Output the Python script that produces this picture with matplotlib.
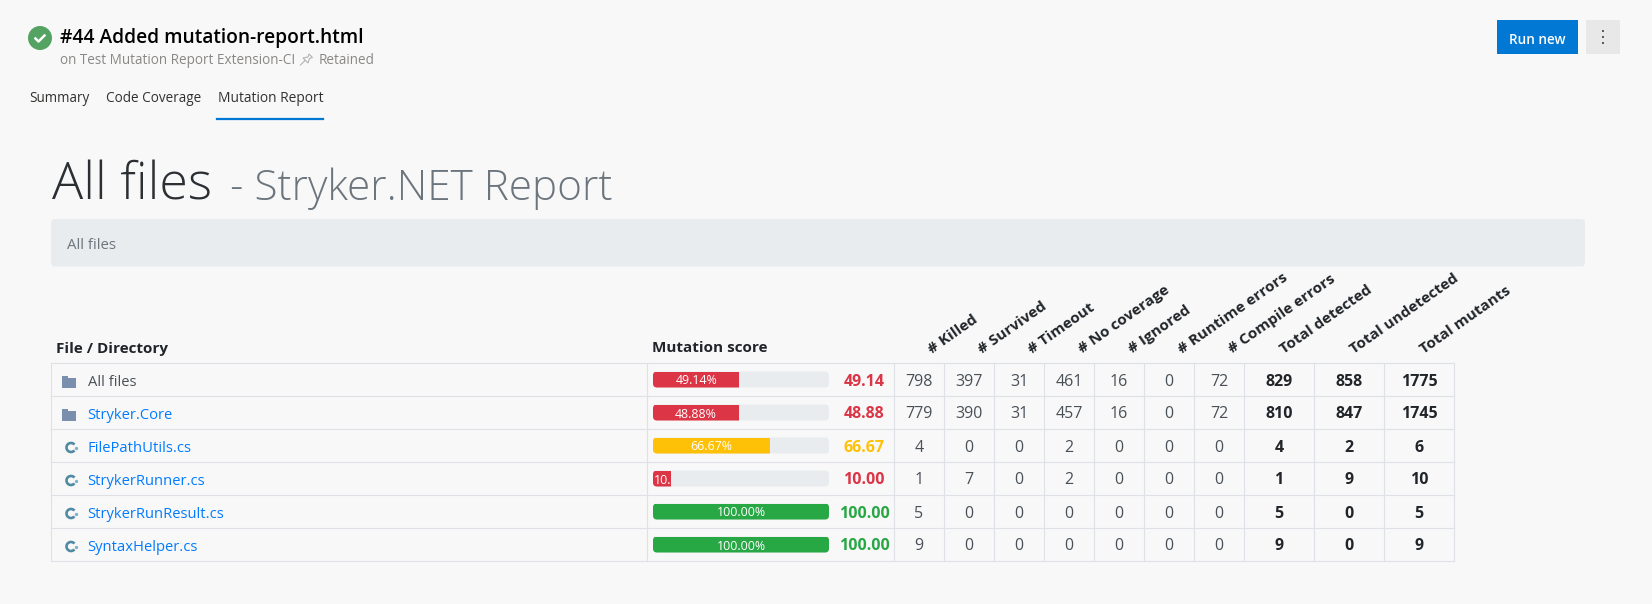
import matplotlib
matplotlib.use("Agg")
import matplotlib.pyplot as plt
from matplotlib.patches import Arc, Circle, FancyBboxPatch, Polygon, Rectangle

# table data
names = ["All files", "Stryker.Core", "FilePathUtils.cs", "StrykerRunner.cs", "StrykerRunResult.cs", "SyntaxHelper.cs"]
is_folder = [True, True, False, False, False, False]
scores = [49.14, 48.88, 66.67, 10.00, 100.00, 100.00]
killed = [798, 779, 4, 1, 5, 9]
survived = [397, 390, 0, 7, 0, 0]
timeout = [31, 31, 0, 0, 0, 0]
no_coverage = [461, 457, 2, 2, 0, 0]
ignored = [16, 16, 0, 0, 0, 0]
runtime_errors = [0, 0, 0, 0, 0, 0]
compile_errors = [72, 72, 0, 0, 0, 0]
total_detected = [829, 810, 4, 1, 5, 9]
total_undetected = [858, 847, 2, 9, 0, 0]
total_mutants = [1775, 1745, 6, 10, 5, 9]

count_headers = ["# Killed", "# Survived", "# Timeout", "# No coverage", "# Ignored", "# Runtime errors",
                 "# Compile errors", "Total detected", "Total undetected", "Total mutants"]
tabs = ["Summary", "Code Coverage", "Mutation Report"]

RED = "#dc3545"
YELLOW = "#ffc107"
GREEN = "#28a745"
LINE = "#dee2e6"
DARK = "#212529"
LINK = "#007bff"
FONT = "Open Sans"


def score_color(s):
    if s < 50:
        return RED
    if s < 80:
        return YELLOW
    return GREEN


fig = plt.figure(figsize=(16.52, 6.04), dpi=100, facecolor="#f8f8f8")
# axes in pixel units, y going down
ax = fig.add_axes([0, 0, 1, 1])
ax.set_xlim(0, 1652)
ax.set_ylim(604, 0)
ax.axis("off")


def px(size):
    return size * 0.72


def txt(x, y, s, size, color=DARK, ha="left", weight="normal", **kw):
    return ax.text(x, y, s, fontsize=px(size), color=color, ha=ha, va="center_baseline",
                   fontweight=weight, family=FONT, **kw)


# page header
ax.add_patch(Circle((40, 38), 12, color="#55a362", lw=0))
ax.plot([35.5, 38.5, 44.5], [38.5, 41.5, 35.5], color="white", lw=1.8)
txt(60, 35, "#44 Added mutation-report.html", 19.2, color="black", weight="semibold")
txt(60, 59, "on Test Mutation Report Extension-CI", 13.5, color="#8a8886")
# pin icon
ax.plot([300.5, 305], [65, 60.5], color="#b5b3b1", lw=0.8)
ax.add_patch(Polygon([(303, 58), (308, 57), (309, 54), (312.5, 57.5), (309.5, 58.5), (308, 63)],
                     closed=True, fc="none", ec="#b5b3b1", lw=0.8))
txt(319, 59, "Retained", 13.5, color="#8a8886")
ax.add_patch(Rectangle((1497, 20), 81, 34, color="#0078d4", lw=0))
txt(1537.5, 38, "Run new", 13.5, color="white", ha="center", weight="semibold")
ax.add_patch(Rectangle((1586, 20), 34, 34, color="#e8e8e8", lw=0))
ax.plot([1603] * 3, [31, 37, 43], ls="", marker="s", ms=1.5, mew=0, color="#605e5c")

tab_x = [29, 106, 218]
for i, (x, t) in enumerate(zip(tab_x, tabs)):
    txt(x, 97, t, 13.7 if i == 2 else 13.5, color="#323130", weight="medium" if i == 2 else "normal")
ax.plot([217, 323], [118.5, 118.5], color="#0078d4", lw=1.6)

# report heading
txt(52, 180, "All files", 52, color="#2b2f33", weight="light")
txt(230, 184, "- Stryker.NET Report", 42.2, color="#6c757d", weight="light")
ax.add_patch(FancyBboxPatch((51, 219), 1534, 47.5, boxstyle="round,pad=0,rounding_size=4",
                            fc="#e9ecef", ec="none"))
txt(67, 243.5, "All files", 15, color="#6c757d")

# table
row_y = [363, 396, 429, 462, 495, 528, 561]
col_x = [51, 647, 894, 944, 994, 1044, 1094, 1144, 1194, 1244, 1314, 1384, 1454]
for y in row_y:
    ax.plot([col_x[0], col_x[-1]], [y, y], color=LINE, lw=0.8)
for x in col_x:
    ax.plot([x, x], [row_y[0], row_y[-1]], color=LINE, lw=0.8)

txt(56, 348, "File / Directory", 15.2, weight="bold")
txt(652, 347, "Mutation score", 15.2, weight="bold")

# rotated headers are anchored at their lower left
for i, h in enumerate(count_headers):
    offset = 38 if i < 7 else 40
    ax.text(col_x[i + 2] + offset, 354, h, fontsize=px(15.2), color=DARK,
            fontweight="bold", family=FONT, rotation=35, rotation_mode="anchor", ha="left", va="baseline")

count_cols = [killed, survived, timeout, no_coverage, ignored, runtime_errors, compile_errors,
              total_detected, total_undetected, total_mutants]
bar_left = 653
bar_width = 176
for r, name in enumerate(names):
    y_mid = (row_y[r] + row_y[r + 1]) / 2
    # icon
    if is_folder[r]:
        ax.add_patch(Rectangle((62, y_mid - 2), 14, 10, color="#7a8fae", lw=0))
        ax.add_patch(Rectangle((62, y_mid - 4), 6, 2, color="#7a8fae", lw=0))
    else:
        ax.add_patch(Arc((71, y_mid + 2), 9, 9, theta1=40, theta2=320, color="#4f8aa3", lw=1.9))
        ax.plot([76], [y_mid + 2], marker="o", ms=2.4, mew=0, color="#7fb0c4", ls="")
    txt(87.5, y_mid + 1, name, 14.8, color="#495057" if r == 0 else LINK)

    # score bar
    s = scores[r]
    c = score_color(s)
    fill = bar_width * s / 100
    track = FancyBboxPatch((bar_left, y_mid - 8), bar_width, 16, boxstyle="round,pad=0,rounding_size=4",
                           fc="#e9ecef", ec="none")
    ax.add_patch(track)
    bars = ax.barh([y_mid], [fill], height=16, left=bar_left, color=c, lw=0)
    bars[0].set_clip_path(track)
    # a label wider than its bar starts at the left edge and gets cut off
    if fill < 42:
        label = txt(bar_left + 0.5, y_mid, f"{s:.2f}%", 12.4, color="white", weight="medium", clip_on=True)
    else:
        label = txt(bar_left + fill / 2, y_mid, f"{s:.2f}%", 12.4, color="white", ha="center", weight="medium",
                    clip_on=True)
    label.set_clip_path(bars[0])
    txt(864, y_mid, f"{s:.2f}", 16, color=c, ha="center", weight="bold")

    for i, col in enumerate(count_cols):
        txt((col_x[i + 2] + col_x[i + 3]) / 2, y_mid, str(col[r]), 16, ha="center",
            color="#495057" if i < 7 else DARK, weight="normal" if i < 7 else "bold")

fig.savefig("out.png", dpi=100, facecolor=fig.get_facecolor())
